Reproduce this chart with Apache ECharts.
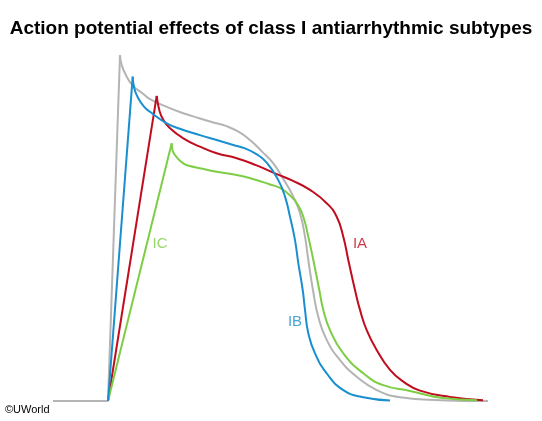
<!DOCTYPE html>
<html>
<head>
<meta charset="utf-8">
<script src="https://cdn.jsdelivr.net/npm/echarts@6/dist/echarts.min.js"></script>
<style>
  html, body { margin: 0; padding: 0; background: #fff; }
  #chart { width: 542px; height: 421px; }
</style>
</head>
<body>
<div id="chart"></div>
<script>
// time (ms, 0 = upstroke start) and membrane potential (mV)
const baseline = [[-55, -90], [0, -90]]

const normalUp = [[0, -90], [12, 30]]
const normalDecay = [
  [12, 30], [13.7, 26.5], [18.7, 22.5], [25.3, 19.2], [35.3, 16.5], [42, 14.7],
  [58.7, 12], [75.3, 9.8], [92, 8], [108.7, 6.3], [117, 5.5], [130, 3.5],
  [142, 0.5], [154, -3.5], [165.3, -7.6], [176, -13.4], [185.3, -19.1], [192, -24.9],
  [197, -33], [200.3, -41.1], [205.3, -52.2], [210.3, -60.8], [218.7, -68.8],
  [232, -75.8], [248.7, -81.6], [268.7, -86.2], [292, -88.7], [332, -89.7], [380, -90],
]

const ibUp = [[0, -90], [24.7, 22.5]]
const ibDecay = [
  [24.7, 22.5], [26.3, 18.4], [30.3, 15], [36, 12.1], [42, 10.3], [58.7, 6.3],
  [75.3, 4], [92, 2.2], [108.7, 0.5], [125.3, -1.2], [137, -2.4], [148, -4.3],
  [158.7, -7.3], [170.3, -13.4], [177, -19.1], [182, -26.1], [187, -34.2], [190.3, -42.2],
  [194.7, -51.5], [197, -58.4], [200.3, -66.5], [207, -73.5], [218.7, -80.4],
  [235.3, -86.2], [255.3, -88.7], [282, -89.8],
]

const iaUp = [[0, -90], [48.7, 15.8]]
const iaDecay = [
  [48.7, 15.8], [51.3, 10.9], [55.3, 7.5], [62, 4.6], [75.3, 1.1], [92, -1.8],
  [108.7, -4.1], [128.7, -5.8], [148, -8.2], [168.7, -11.3], [184, -13.5],
  [202, -16.8], [218.7, -21.4], [228.7, -26.1], [235.3, -33], [240.3, -41.1],
  [247, -51.5], [252, -58.4], [258.7, -65.4], [268.7, -72.3], [282, -79.2],
  [295.3, -83.3], [312, -86.4], [342, -88.6], [375, -89.7],
]

const icUp = [[0, -90], [63.7, -0.6]]
const icDecay = [
  [63.7, -0.6], [64.5, -3], [67, -4.7], [75.3, -7.6], [82, -8.5], [92, -9.3],
  [108.7, -10.5], [128.7, -11.6], [145, -13], [162, -14.9], [172, -16.1],
  [182, -18.7], [190, -22], [195.3, -26.1], [200.3, -33], [205.3, -41.1], [211.3, -51.5],
  [215.3, -58.4], [222, -65.4], [235.3, -73.5], [255.3, -80.4], [275.3, -84.5],
  [302, -86.5], [335, -89], [369, -89.7],
]

const labels = [
  { name: 'IC', coord: [52, -35.4], color: '#7dcd45' },
  { name: 'IB', coord: [187, -62.6], color: '#1a8fd0' },
  { name: 'IA', coord: [252, -35.4], color: '#c00d1e' },
]

const colors = { normal: '#b4b4b4', IB: '#1a8fd0', IA: '#c00d1e', IC: '#7dcd45' }

function line(name, data, color, smooth) {
  return {
    name,
    type: 'line',
    data,
    smooth: smooth ? 0.5 : false,
    showSymbol: false,
    clip: false,
    silent: true,
    lineStyle: { color, width: 2 },
  }
}

const chart = echarts.init(document.getElementById('chart'))

chart.setOption({
  backgroundColor: '#ffffff',
  animation: false,
  title: {
    text: 'Action potential effects of class I antiarrhythmic subtypes',
    left: 'center',
    top: 19,
    padding: 0,
    textStyle: { fontSize: 19, fontWeight: 'bold', color: '#000', fontFamily: 'Liberation Sans, Arial, sans-serif' },
  },
  grid: { left: 53, right: 54, top: 55, bottom: 20 },
  xAxis: { type: 'value', min: -55, max: 380, show: false },
  yAxis: { type: 'value', min: -90, max: 30, show: false },
  series: [
    line('normal base', baseline, colors.normal, false),
    line('normal up', normalUp, colors.normal, false),
    line('normal', normalDecay, colors.normal, true),
    line('IA up', iaUp, colors.IA, false),
    line('IA', iaDecay, colors.IA, true),
    line('IC up', icUp, colors.IC, false),
    line('IC', icDecay, colors.IC, true),
    line('IB up', ibUp, colors.IB, false),
    line('IB', ibDecay, colors.IB, true),
    {
      type: 'scatter',
      symbolSize: 0,
      silent: true,
      data: labels.map(l => ({
        value: l.coord,
        label: {
          show: true,
          formatter: l.name,
          position: 'inside',
          color: l.color,
          fontSize: 15,
          fontFamily: 'Liberation Sans, Arial, sans-serif',
        },
      })),
    },
  ],
  graphic: [{
    type: 'text',
    left: 5,
    top: 404,
    style: { text: '©UWorld', fontSize: 11, fill: '#000', fontFamily: 'Liberation Sans, Arial, sans-serif' },
  }],
})
</script>
</body>
</html>
